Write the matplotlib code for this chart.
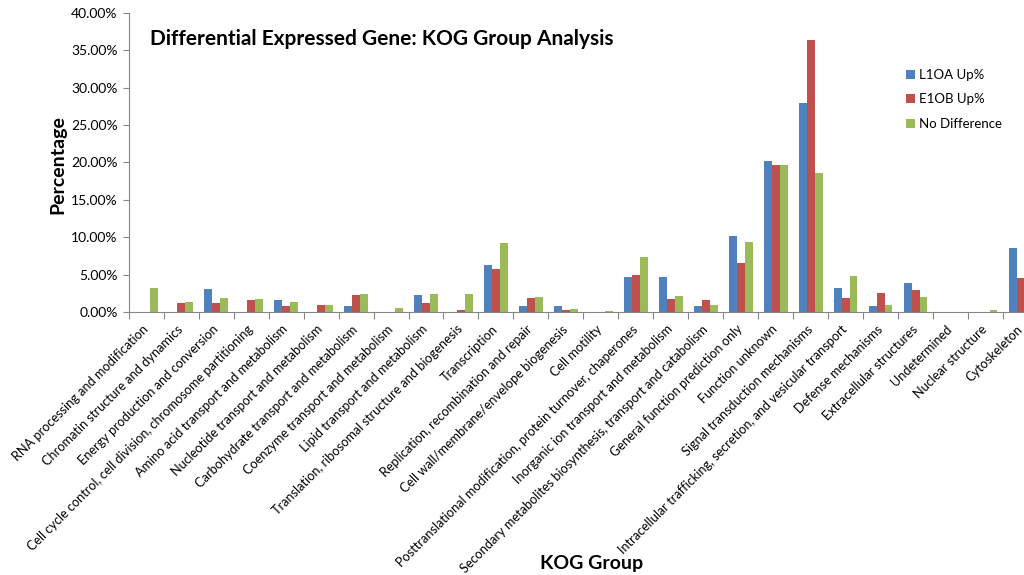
import numpy as np
import matplotlib
matplotlib.use("Agg")
from matplotlib import pyplot as plt
from matplotlib import transforms
from matplotlib.ticker import PercentFormatter

plt.rcParams['font.family'] = ['Lato', 'DejaVu Sans']

categories = [
    "RNA processing and modification",
    "Chromatin structure and dynamics",
    "Energy production and conversion",
    "Cell cycle control, cell division, chromosome partitioning",
    "Amino acid transport and metabolism",
    "Nucleotide transport and metabolism",
    "Carbohydrate transport and metabolism",
    "Coenzyme transport and metabolism",
    "Lipid transport and metabolism",
    "Translation, ribosomal structure and biogenesis",
    "Transcription",
    "Replication, recombination and repair",
    "Cell wall/membrane/envelope biogenesis",
    "Cell motility",
    "Posttranslational modification, protein turnover, chaperones",
    "Inorganic ion transport and metabolism",
    "Secondary metabolites biosynthesis, transport and catabolism",
    "General function prediction only",
    "Function unknown",
    "Signal transduction mechanisms",
    "Intracellular trafficking, secretion, and vesicular transport",
    "Defense mechanisms",
    "Extracellular structures",
    "Undetermined",
    "Nuclear structure",
    "Cytoskeleton",
]

l1oa_up = [0.0, 0.0, 3.1, 0.0, 1.6, 0.0, 0.8, 0.0, 2.3, 0.0, 6.3, 0.8, 0.8, 0.0,
           4.7, 4.7, 0.8, 10.2, 20.2, 27.9, 3.2, 0.8, 3.9, 0.0, 0.0, 8.5]
e1ob_up = [0.0, 1.2, 1.2, 1.6, 0.8, 1.0, 2.3, 0.0, 1.2, 0.3, 5.7, 1.9, 0.3, 0.0,
           4.9, 1.8, 1.6, 6.5, 19.6, 36.4, 1.9, 2.6, 2.9, 0.0, 0.0, 4.5]
no_diff = [3.2, 1.3, 1.9, 1.7, 1.4, 1.0, 2.4, 0.5, 2.4, 2.4, 9.2, 2.0, 0.4, 0.15,
           7.4, 2.2, 0.9, 9.4, 19.7, 18.6, 4.8, 1.0, 2.0, 0.0, 0.3, 5.0]

series = [
    ("L1OA Up%", l1oa_up, "#4F81BD"),
    ("E1OB Up%", e1ob_up, "#C0504D"),
    ("No Difference", no_diff, "#9BBB59"),
]

fig = plt.figure(figsize=(10.24, 5.75), dpi=100)
# the original is cropped on the right, so the axes run past the figure edge
ax = fig.add_axes([0.1257, 0.4574, 0.888, 0.5200])

x = np.arange(len(categories))
w = 0.225
for i, (name, vals, col) in enumerate(series):
    ax.bar(x + (i - 1) * w, vals, width=w, color=col, label=name)

ax.set_xlim(-0.5, len(categories) - 0.5)
ax.set_ylim(0, 40)
ax.set_yticks(np.arange(0, 41, 5))
ax.yaxis.set_major_formatter(PercentFormatter(decimals=2))
ax.tick_params(axis='y', direction='out', length=4, color='#868686',
               labelsize=10, pad=4)

# category boundaries get tick marks, centers get the labels
ax.set_xticks(np.arange(-0.5, len(categories), 1.0))
ax.set_xticklabels([])
ax.set_xticks(x, minor=True)
ax.set_xticklabels(categories, minor=True, rotation=45, ha='right',
                   rotation_mode='anchor', fontsize=9.2)
ax.tick_params(axis='x', which='major', direction='out', length=5, color='#868686')
ax.tick_params(axis='x', which='minor', length=0, pad=8)
shift = transforms.ScaledTranslation(-0.045, 0, fig.dpi_scale_trans)
for lbl in ax.get_xticklabels(minor=True):
    lbl.set_transform(lbl.get_transform() + shift)

for s in ['top', 'right']:
    ax.spines[s].set_visible(False)
for s in ['left', 'bottom']:
    ax.spines[s].set_color('#868686')

fig.text(0.146, 0.932, "Differential Expressed Gene: KOG Group Analysis",
         fontsize=15, fontweight='bold', va='center', ha='left')
fig.text(0.057, 0.713, "Percentage", rotation=90, fontsize=14,
         fontweight='bold', va='center', ha='center')
fig.text(0.578, 0.02, "KOG Group", fontsize=14, fontweight='bold',
         va='center', ha='center')

ax.legend(loc='upper left', bbox_to_anchor=(0.842, 0.853), frameon=False,
          fontsize=9.5, handlelength=0.7, handleheight=0.7, handletextpad=0.3,
          labelspacing=0.95)

fig.savefig("out.png", dpi=100)
